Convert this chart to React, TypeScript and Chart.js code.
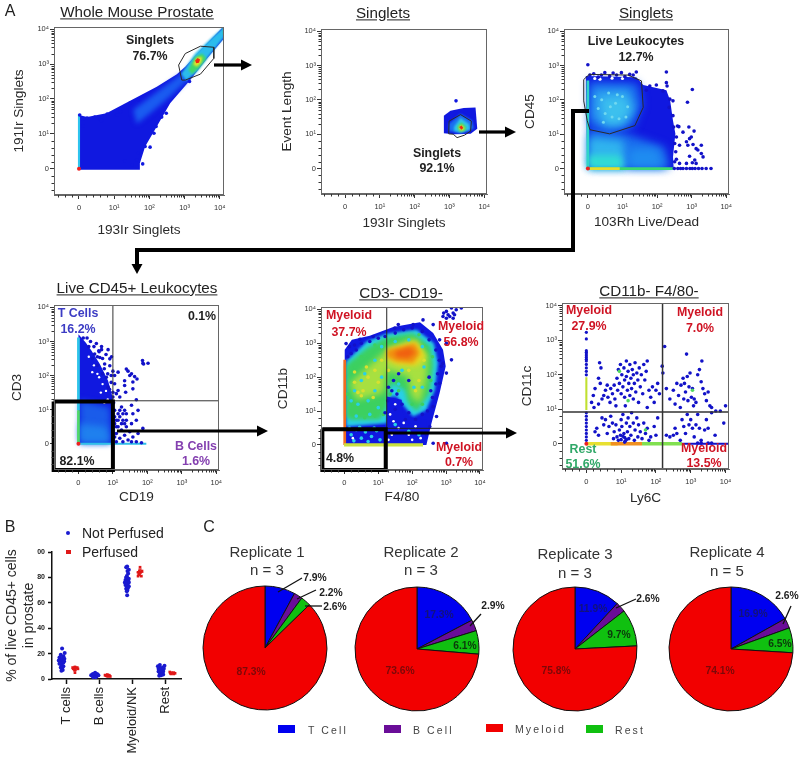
import React, { useEffect, useRef } from "react";
import { Chart, registerables } from "chart.js";

/* softens the density layers: must run before the filler plugin, so it is registered first */
const softDensity = {
  id: "softDensity",
  beforeDatasetDraw(chart: any, args: any) {
    const soft = chart.data.datasets[args.index].soft;
    chart.ctx.filter = soft ? `blur(${soft}px)` : "none";
  },
  afterDatasetDraw(chart: any) {
    chart.ctx.filter = "none";
  },
};
Chart.register(softDensity);
Chart.register(...registerables);

type P = [number, number];

/* ---------- axis tick values (decades on a biexponential axis) ---------- */
const majorTicks = [0, 1, 2, 3, 4];
const majorLabels = ["0", "10¹", "10²", "10³", "10⁴"];
const minorTicks = [-0.6, -0.4, -0.2, 0.2, 0.4, 0.6, 0.8, 1.3, 1.48, 1.6, 1.7, 1.78, 1.85, 1.9, 1.95, 2.3, 2.48, 2.6, 2.7, 2.78, 2.85, 2.9, 2.95, 3.3, 3.48, 3.6, 3.7, 3.78, 3.85, 3.9, 3.95];

/* ---------- panel 1: 193Ir vs 191Ir ---------- */
const p1Blue: P[] = [[0,1.54],[.23,1.48],[.78,1.59],[1.4,1.92],[2.21,2.35],[2.78,2.71],[3.02,2.92],[3.45,3.4],[4.12,4.09],[4.12,3.73],[3.64,3.16],[3.16,2.54],[2.59,1.88],[2.21,1.21],[1.88,.64],[1.73,.16],[1.73,-.03],[0,-.03]];
const p1Mid: P[] = [[1.54,1.69],[2.3,2.26],[2.88,2.69],[3.07,2.78],[3.09,2.54],[2.59,2.07],[2.02,1.59],[1.64,1.29]];
const p1Cyan: P[] = [[2.9,2.72],[3.3,3.3],[3.8,3.78],[4.12,4.07],[4.12,3.76],[3.75,3.3],[3.35,2.78],[3.05,2.52]];
const p1Green: P[] = [[3.11,2.83],[3.28,3.19],[3.5,3.3],[3.62,3.16],[3.4,2.88],[3.21,2.71]];
const p1Yellow: P[] = [[3.24,2.99],[3.35,3.19],[3.5,3.21],[3.48,3.05],[3.35,2.92]];
const p1Red: P[] = [[3.3,3.1],[3.37,3.17],[3.44,3.13],[3.41,3.04],[3.33,3.02]];
const p1Corner: P[] = [[4.08,4.07],[4.13,4.07],[4.13,3.88],[4.08,3.83]];
const p1Strip: P[] = [[-.03,1.56],[.03,1.56],[.03,0],[-.03,0]];
const p1Gate: P[] = [[2.83,2.97],[3.02,3.3],[3.45,3.51],[3.83,3.48],[3.83,3.16],[3.45,2.71],[3.02,2.54],[2.92,2.54]];
const p1Events: P[] = [[.02,1.54],[.11,1.42],[.23,1.45],[.11,1.23],[.45,1.48],[.59,1.42],[.8,1.57],[.64,1.38],[1.07,1.54],[1.18,1.64],[1.45,1.88],[1.69,1.97],[2.48,1.59],[2.35,1.48],[2.19,1.21],[2.13,1.02],[2.02,.62],[1.88,.64],[1.69,.45],[1.81,.14],[1.3,.23],[1.5,.11],[1.64,.26],[3.14,2.5]];
const originEvent: P[] = [[0,0]];

/* ---------- panel 2: 193Ir vs event length ---------- */
const p2Blue: P[] = [[2.84,1.54],[3.03,1.68],[3.41,1.76],[3.75,1.78],[3.8,1.16],[3.61,1.01],[3.13,1.0],[2.84,1.03]];
const p2Mid: P[] = [[2.98,1.3],[3.32,1.59],[3.65,1.4],[3.7,1.16],[3.32,1.03],[2.98,1.09]];
const p2Cyan: P[] = [[3.13,1.21],[3.32,1.47],[3.56,1.3],[3.59,1.13],[3.32,1.05],[3.14,1.09]];
const p2Green: P[] = [[3.22,1.21],[3.34,1.35],[3.48,1.21],[3.46,1.11],[3.3,1.07]];
const p2Yellow: P[] = [[3.27,1.21],[3.34,1.28],[3.44,1.19],[3.4,1.11],[3.3,1.11]];
const p2Red: P[] = [[3.28,1.21],[3.35,1.25],[3.4,1.18],[3.34,1.13]];
const p2Gate: P[] = [[2.99,1.38],[3.32,1.57],[3.63,1.38],[3.61,1.09],[3.43,.97],[3.22,.9],[3.11,1.0],[2.98,1.01]];
const p2Events: P[] = [[3.19,1.97]];

/* ---------- panel 3: Live/Dead vs CD45 ---------- */
const p3Blue: P[] = [[-.06,2.69],[1.4,2.66],[1.6,2.43],[2.27,2.28],[2.38,1.97],[2.46,1.4],[2.53,1.01],[2.46,.34],[2.48,.01],[-.02,-.02]];
const p3Upper1: P[] = [[.02,2.55],[1.45,2.5],[1.58,1.88],[1.33,1.22],[.63,1.03],[.02,1.22]];
const p3Upper2: P[] = [[.15,2.33],[1.21,2.33],[1.38,1.78],[1.07,1.25],[.54,1.16],[.11,1.49]];
const p3Upper3: P[] = [[.35,2.07],[1.07,2.11],[1.26,1.68],[.92,1.28],[.49,1.32]];
const p3Lower1: P[] = [[.02,1.16],[1.12,1.01],[2.22,.63],[2.37,.01],[.02,.01]];
const p3Lower2: P[] = [[.02,.92],[1.02,.82],[1.12,.01],[.02,.01]];
const p3Lower3: P[] = [[.02,.39],[.92,.39],[1.07,.01],[.02,.01]];
const p3Lower4: P[] = [[1.21,.58],[1.98,.58],[2.22,.01],[1.16,.01]];
const p3Strip: P[] = [[-.04,2.56],[.04,2.56],[.04,.01],[-.04,.01]];
const p3Bottom: P[] = [[-.02,.04],[2.46,.04],[2.46,-.04],[-.02,-.04]];
const p3BottomHot: P[] = [[.06,.04],[.92,.04],[.92,-.04],[.06,-.04]];
const p3Gate: P[] = [[-.12,2.59],[.04,2.74],[1.16,2.72],[1.55,2.55],[1.6,1.78],[1.36,1.25],[.63,1.01],[.06,1.13],[-.02,1.4],[-.12,1.97]];
const p3Events: P[] = [[0,3.02],[.06,2.72],[.17,2.76],[.3,2.66],[.49,2.79],[.73,2.78],[.97,2.79],[1.07,2.68],[1.21,2.74],[1.4,2.81],[.63,2.69],[1.31,2.72],[.83,2.72],[.39,2.72],[2.27,2.81],[2.27,2.5],[2.29,2.4],[1.79,2.4],[1.98,2.43],[1.69,2.28],[2.17,2.26],[2.37,2.02],[2.46,1.97],[2.35,1.78],[2.46,1.54],[2.48,1.21],[2.59,1.24],[2.63,1.22],[3.02,2.3],[2.88,1.93],[2.92,1.21],[3.07,1.09],[2.75,1.06],[2.56,.92],[2.99,.92],[2.94,.87],[2.85,.78],[2.65,.68],[2.89,.68],[3.04,.7],[3.28,.68],[3.13,.58],[3.18,.54],[3.28,.44],[3.33,.34],[2.94,.36],[3.09,.25],[2.65,.15],[2.51,.2],[3.13,.15],[2.85,.15],[3.02,.17],[2.56,.27],[2.54,.49],[2.51,.73],[2.5,0],[2.6,0],[2.68,0],[2.75,0],[2.85,0],[2.95,0],[3.02,0],[3.1,0],[3.2,0],[3.3,0],[3.42,0],[3.56,0]];
const p3LightEvents: P[] = [[.4,2],[.6,2.2],[.8,1.9],[1,2.1],[.5,1.6],[.7,1.5],[.9,1.45],[1.15,1.8],[.3,1.75],[.65,1.8],[.85,2.15],[.2,2.1],[1.1,1.5],[.45,1.35]];
const p3Gaps: P[] = [[.2,2.62],[.35,2.6],[.7,2.63],[1,2.62]];

/* ---------- panel 4: CD19 vs CD3 ---------- */
const p4Blue: P[] = [[0,3.21],[.21,2.97],[.38,2.73],[.62,2.34],[.86,1.85],[.99,1.37],[1.05,.79],[1.05,0],[0,0]];
const p4Lower1: P[] = [[.04,1.27],[.91,1.08],[.96,.03],[.04,.03]];
const p4Lower2: P[] = [[.04,.59],[.81,.5],[.91,.03],[.04,.03]];
const p4Bottom: P[] = [[.04,.03],[1.97,.03],[1.97,-.03],[.04,-.03]];
const p4StripTop: P[] = [[-.04,3.12],[.04,3.12],[.04,.98],[-.04,.98]];
const p4StripLow: P[] = [[-.04,.98],[.04,.98],[.04,0],[-.04,0]];
const p4QuadV: P[] = [[1,-.77],[1,4.07]];
const p4QuadH: P[] = [[-.71,1.26],[4.08,1.26]];
const p4Box: P[] = [[-.72,1.24],[1,1.24],[1,-.77],[-.72,-.77]];
const p4Events: P[] = [[.14,3.1],[.25,3.1],[.52,2.94],[.67,2.85],[.67,2.76],[.86,2.76],[.96,2.55],[.59,2.73],[.47,2.63],[.76,2.34],[.91,2.29],[1,2.13],[1.15,2.1],[1.05,2],[1.39,2.19],[1.44,2.13],[1.54,2.05],[1.63,1.97],[1.7,1.9],[1.34,1.85],[1.05,1.76],[1.34,1.71],[1.15,1.56],[1,1.51],[1.58,1.61],[1.37,1.51],[1.68,1.29],[1.2,1.37],[1.87,2.36],[1.86,2.44],[1.89,2.34],[2.02,2.36],[1.49,2],[1.58,1.81],[.86,1.66],[.81,1.95],[.62,2.53],[.91,2.49],[1,1.37],[1.1,1.47],[1.05,.98],[1.15,.88],[1.25,1.08],[1.34,.98],[1.2,.79],[1.1,.69],[1.05,.59],[1.29,.69],[1.39,.88],[1.54,1.13],[1.58,.88],[1.73,.98],[1.68,.69],[1.54,.59],[1.39,.5],[1.25,.4],[1.1,.3],[1.87,.45],[1.73,.3],[1.58,.2],[1.44,.11],[1.2,.16],[1.29,.06],[1.05,.2],[1.15,.5],[1.49,.35],[1.34,.25],[1.68,.06],[1.83,.03],[1.1,.06],[1.54,.06],[1.2,.98],[1.29,.88],[1.15,.69],[1.25,.59],[1.05,.79],[1.1,.5],[1.34,.59],[1.39,.69],[.3,2.85],[.45,2.85],[.4,2.5],[.55,2.55],[.7,2.5],[.75,2.2],[.85,2.05],[.95,2],[.95,1.8],[.7,2.05],[.8,2.62],[.55,2.3],[.6,2.7],[.35,3],[.9,1.6],[1.02,1.2],[.98,1.15]];
const p4Gaps: P[] = [[.55,2.05],[.45,2.3],[.3,2.55],[.7,1.75],[.6,1.95],[.8,1.55],[.65,1.5],[.4,2.1],[.85,1.3],[.75,1.2]];

/* ---------- panel 5: F4/80 vs CD11b ---------- */
const p5Blue: P[] = [[.01,2.81],[.22,3.1],[.75,3.22],[1.44,3.48],[2.23,3.62],[2.62,3.3],[2.91,2.81],[2.99,2.32],[2.81,1.53],[2.57,.64],[2.42,0],[.01,0]];
const p5Cyan: P[] = [[.05,2.46],[.66,3.05],[1.25,3.28],[2.13,3.4],[2.64,3],[2.76,2.41],[2.67,1.63],[2.42,1.03],[2.03,.84],[1.78,1.13],[1.54,1.43],[1.34,1.43],[1.25,.64],[.05,.54]];
const p5Green: P[] = [[.05,2.36],[.66,2.86],[1.25,3.18],[2.03,3.3],[2.54,2.91],[2.62,2.36],[2.52,1.53],[2.13,.99],[1.88,1.23],[1.78,1.63],[1.39,1.82],[1.25,1.13],[1.05,.74],[.17,.74],[.05,.84]];
const p5Lime: P[] = [[.17,1.82],[.75,2.36],[1.25,2.81],[2.03,3.15],[2.47,2.61],[2.42,1.97],[2.23,1.23],[1.98,1.43],[1.88,2.02],[1.25,2.22],[1.15,1.53],[.36,1.33]];
const p5Yellow: P[] = [[1.26,2.85],[1.74,2.96],[2.13,3.08],[2.42,2.61],[2.13,2.32],[1.54,2.36],[1.26,2.51]];
const p5Orange: P[] = [[1.26,2.81],[1.74,2.91],[2.08,3],[2.23,2.71],[2.03,2.41],[1.54,2.46],[1.26,2.59]];
const p5Hot: P[] = [[1.49,2.76],[1.93,2.89],[2.1,2.71],[1.88,2.56],[1.54,2.59]];
const p5LowerLeft: P[] = [[.05,.49],[1.2,.59],[1.25,.03],[.05,.03]];
const p5LowerRight: P[] = [[1.25,1.43],[1.69,1.33],[1.74,.84],[2.42,.74],[2.4,.03],[1.26,.03]];
const p5Strip: P[] = [[-.03,2.51],[.05,2.51],[.05,0],[-.03,0]];
const p5Bottom: P[] = [[-.01,.05],[2.32,.05],[2.32,-.05],[-.01,-.05]];
const p5QuadV: P[] = [[1.25,-.74],[1.25,4.07]];
const p5QuadH: P[] = [[-.69,.49],[4.09,.49]];
const p5Box: P[] = [[-.65,.46],[1.22,.46],[1.22,-.74],[-.65,-.74]];
const p5CyanEvents: P[] = [[.2,.3],[.35,.45],[.5,.2],[.62,.38],[.8,.25],[.95,.42],[1.05,.15],[.28,.12],[.7,.1],[.45,.52],[.88,.5],[.15,.5],[1.5,.6],[1.9,.4],[2.2,.3],[.3,1.6],[.5,1.9],[.7,1.3],[.9,1.6],[1,1.1],[.4,1.2],[.2,1.3],[.6,2.1],[.9,2.5],[1.1,2],[1.6,1.8],[1.7,2.2],[2.05,1.7],[2.3,1.7],[2.35,2.3],[2.3,2.9],[1.9,3.1],[1.5,3.05],[1.1,2.9],[.75,.9],[.35,.85]];
const p5GreenEvents: P[] = [[.3,2.3],[.5,2.6],[.9,2.95],[1.4,3.1],[2.2,3.25],[2.6,2.6],[2.55,1.9],[2.3,1.2],[.2,1],[.6,.8],[.9,.85],[1.15,.9],[.1,1.5],[1.6,1.6],[2,1.2],[1.35,1.5]];
const p5YellowEvents: P[] = [[.3,1.85],[.55,1.6],[.7,2],[.85,1.4],[1,1.85],[.5,1.45],[1.1,2.5],[.9,2.2],[.65,2.3],[.3,2.15],[2.1,1.6],[2.2,1.9],[2.35,2.5],[1.9,2.2],[1.3,2.2],[.4,1.55]];
const p5Gaps: P[] = [[1.5,1.2],[1.35,.9],[1.6,.5],[1.9,.3],[2.1,.55],[1.4,.3],[2.25,.2],[1.75,.65],[1.45,.7],[2,.15],[.25,.2],[1.3,.15]];
const p5BlueEvents: P[] = [[.3,2.95],[.5,3],[.75,3.05],[1,3.15],[1.2,3.2],[1.5,3.3],[1.75,3.4],[2,3.45],[2.3,3.35],[2.5,3.1],[2.7,2.8],[2.8,2.5],[2.75,2.1],[2.7,1.8],[2.6,1.4],[2.45,1],[2.3,.9],[2.1,.75],[1.9,.95],[1.7,1.2],[1.55,1.5],[1.4,1.6],[1.3,1.7],[1.28,1.3],[1.2,.95],[.2,2.7],[.35,2.8],[.15,2.9],[.1,2.6],[1.6,2.1],[1.9,1.9],[1.45,1.9],[2.5,2],[2.55,1.6],[1.5,1.05],[1.8,.75],[2.91,3.79],[3.01,3.94],[3.16,4.04],[3.21,3.89],[3.06,3.84],[3.21,3.74],[3.45,4.04],[3.3,3.99],[2.93,3.89],[3.11,3.79],[3.01,3.74],[3.25,3.84],[3.01,3],[3.16,2.51],[2.91,2.41],[3.01,2.12],[2.81,1.82],[2.62,1.13],[2.72,.84],[2.42,.3],[2.62,.05],[3.01,.05],[2.52,.54],[2.86,2.32],[2.81,3.1],[2.62,3.55],[2.32,3.69],[2.03,3.55],[1.59,3.55],[1.49,3.45],[.85,3.2],[.46,3.12],[.05,2.99]];

/* ---------- panel 6: Ly6C vs CD11c ---------- */
const p6QuadV: P[] = [[2.19,-.73],[2.19,4.08]];
const p6QuadH: P[] = [[-.7,.92],[4.1,.92]];
const p6BottomYellow: P[] = [[0,.05],[.9,.05],[.9,-.05],[0,-.05]];
const p6BottomOrange: P[] = [[.7,.05],[1.6,.05],[1.6,-.05],[.7,-.05]];
const p6BottomGreen: P[] = [[1.6,.05],[2.75,.05],[2.75,-.05],[1.6,-.05]];
const p6BottomTail: P[] = [[2.75,.03],[4.1,.03],[4.1,-.03],[2.75,-.03]];
const p6Strip: P[] = [[-.03,1.93],[.03,1.93],[.03,.98],[-.03,.98]];
const p6Axis0: P[] = [[0,3.23],[0,3.04],[0,2.7],[0,2.65],[0,2.6],[0,2.55],[0,2.5],[0,2.45],[0,2.4],[0,2.3],[0,2.2],[0,2.1],[0,2],[0,.9],[0,.8],[0,.7],[0,.6],[0,.5],[0,.4],[0,.3],[0,.2],[0,.1]];
const p6UpperLeft: P[] = [[.38,2.35],[.42,2.2],[.35,1.9],[.4,1.75],[.5,1.4],[.25,1.6],[.2,1.4],[.15,1.2],[.22,1.05],[.35,1.15],[.45,1.3],[.55,1.55],[.6,1.7],[.62,1.35],[.7,1.6],[.68,1.2],[.75,1.45],[.8,1.7],[.82,1.3],[.85,1.1],[.9,1.55],[.88,1.9],[.92,2.15],[.95,1.75],[.98,2.3],[1,1.45],[1.02,2],[1.05,1.65],[1.08,2.2],[1.1,1.85],[1.1,1.35],[1.12,1.1],[1.15,2.4],[1.15,1.95],[1.18,1.55],[1.2,2.1],[1.22,1.75],[1.25,1.4],[1.25,2.3],[1.28,1.9],[1.3,1.6],[1.32,2.15],[1.35,2],[1.35,1.3],[1.38,1.75],[1.4,2.35],[1.42,1.5],[1.45,2.05],[1.48,1.85],[1.5,1.2],[1.52,2.2],[1.55,1.65],[1.58,2],[1.62,1.45],[1.65,2.3],[1.68,1.85],[1.72,2.1],[1.75,2.4],[1.75,1.05],[1.8,1.55],[1.85,1.35],[1.9,1.65],[1.95,1.2],[2,1.55],[2.05,1.75],[2.1,1.45],[2.18,2.25],[2.2,2.05]];
const p6UpperRight: P[] = [[2.25,2.82],[2.3,1.6],[2.4,1.3],[2.5,1.55],[2.55,1.15],[2.6,1.75],[2.65,1.4],[2.7,1.05],[2.72,1.7],[2.78,1.9],[2.8,1.3],[2.82,1.75],[2.85,1.5],[2.9,1.95],[2.92,1.25],[2.95,1.65],[2.98,2.05],[3.02,1.35],[3.05,1.6],[3.08,1.1],[3.1,1.3],[3.15,1.2],[3.2,2],[3.25,2.15],[3.3,1.8],[3.32,2.4],[3.4,1.45],[3.45,1.25],[3.5,1.5],[3.55,1.1],[3.6,1.05],[2.88,2.6],[3.35,1.6],[3.72,.95],[3.85,.95],[4,1.1]];
const p6LowerLeft: P[] = [[.25,.35],[.3,.45],[.35,.25],[.45,.75],[.5,.55],[.55,.7],[.6,.3],[.65,.5],[.7,.8],[.75,.6],[.78,.15],[.8,.35],[.85,.55],[.88,.2],[.92,.1],[.95,.4],[.98,.25],[1,.7],[1,.12],[1.02,.5],[1.05,.85],[1.08,.3],[1.1,.18],[1.12,.08],[1.15,.6],[1.18,.35],[1.2,.75],[1.22,.15],[1.25,.5],[1.28,.25],[1.3,.9],[1.35,.6],[1.38,.1],[1.4,.4],[1.45,.75],[1.48,.2],[1.5,.55],[1.55,.35],[1.6,.15],[1.65,.6],[1.7,.3],[1.75,.45],[1.8,.1],[1.85,.2],[1.95,.5],[2,.25],[2.05,.75],[1.1,.05],[1.05,.22],[1.15,.12]];
const p6LowerRight: P[] = [[2.3,.25],[2.4,.2],[2.5,.25],[2.55,.45],[2.6,.3],[2.7,.1],[2.75,.7],[2.8,.5],[2.85,.3],[2.9,.85],[2.95,.55],[3,.7],[3.05,.45],[3.1,.2],[3.15,.55],[3.2,.85],[3.25,.45],[3.3,.1],[3.4,.4],[3.45,.7],[3.5,.45],[3.6,.9],[3.7,.25],[3.95,.6],[3.3,.02],[3.5,.02],[3.2,.02],[3.6,.02]];
const p6GreenEvents: P[] = [[.95,2.1],[3.05,1.55],[1.2,1.25],[1.7,.4]];

/* ---------- panel B ---------- */
const bCategories = ["T cells", "B cells", "Myeloid/NK", "Rest"];
const bCategoryTicks = [1, 2, 3, 4];
const bYTicks = [0, 20, 40, 60, 80, 100];
const bYLabels = ["0", "20", "40", "60", "80", "00"];
const notPerfused: P[] = [[.86,24],[.94,20.5],[.82,19],[.9,18],[.78,17],[.87,16],[.93,16],[.8,15],[.88,15],[.76,14.5],[.84,14],[.92,14],[.8,13.5],[.9,13],[.86,12.5],[.78,12],[.84,11],[.9,10],[.82,9],[.86,8],[.88,7],[.84,6.5],
 [1.86,5],[1.8,4],[1.92,4],[1.78,3.5],[1.88,3.5],[1.74,3],[1.82,3],[1.94,3],[1.86,2.5],[1.78,2.5],[1.9,2],[1.84,2],[1.8,1.5],[1.88,1.5],[1.96,3],[1.86,4],
 [2.83,88.5],[2.8,88],[2.88,86],[2.84,85],[2.86,83],[2.82,81],[2.8,80],[2.88,79],[2.78,78],[2.86,78],[2.82,77],[2.76,76],[2.88,76],[2.8,75],[2.84,74],[2.78,74],[2.88,73],[2.82,73],[2.86,72],[2.8,71],[2.84,70],[2.82,69],[2.83,66],
 [3.82,11],[3.96,10.5],[3.76,10],[3.8,9],[3.92,9],[3.86,8.5],[3.78,8],[3.94,8],[3.84,7.5],[3.8,7],[3.9,7],[3.86,6.5],[3.78,6],[3.92,6],[3.84,5.5],[3.88,5],[3.82,4],[3.92,3.5],[3.86,3],[3.8,2.5]];
const perfused: P[] = [[1.25,9.5],[1.18,9],[1.32,9],[1.22,8.5],[1.3,8.5],[1.2,8],[1.26,7.5],[1.24,7],[1.25,5],[1.34,8],
 [2.23,3.5],[2.16,3],[2.28,3],[2.2,2.5],[2.3,2.5],[2.24,2],[2.32,2],[2.18,3],
 [3.22,88],[3.2,85],[3.28,85],[3.16,84],[3.24,84],[3.2,83],[3.18,82],[3.16,81],[3.26,81],
 [4.12,5.5],[4.18,5],[4.24,5],[4.14,4.5],[4.2,4.5],[4.28,4.5],[4.16,4],[4.24,4]];
const bPositionsNot = [.86, 1.86, 2.83, 3.85];
const bMeansNot = [14, 3, 77, 6.9];
const bSdNot = [4, 1, 5, 2.5];
const bPositionsPerf = [1.25, 2.23, 3.22, 4.2];
const bMeansPerf = [8, 2.7, 84, 4.6];
const bSdPerf = [1.5, .5, 2.5, .5];

/* ---------- panel C ---------- */
const pieCategories = ["T Cell", "B Cell", "Rest", "Myeloid"];
const replicate1 = [7.9, 2.2, 2.6, 87.3];
const replicate2 = [17.3, 2.9, 6.1, 73.6];
const replicate3 = [11.9, 2.6, 9.7, 75.8];
const replicate4 = [16.9, 2.6, 6.5, 74.1];

/* ---------- dataset helpers ---------- */
const xy = (pts: P[]) => pts.map(([x, y]) => ({ x, y }));
const poly = (pts: P[], color: string, soft = 0) => ({ type: "line", data: xy(pts), fill: "shape", backgroundColor: color, borderWidth: 0, pointRadius: 0, tension: 0, soft });
const stroke = (pts: P[], color: string, width: number, closed = false, clip: any = undefined) => ({ type: "line", data: xy(closed ? [...pts, pts[0]] : pts), fill: false, borderColor: color, borderWidth: width, pointRadius: 0, tension: 0, clip });
const dots = (pts: P[], color: string, r = 1.8) => ({ type: "scatter", data: xy(pts), backgroundColor: color, borderWidth: 0, pointRadius: r, showLine: false });
const ordered = (list: any[]) => list.map((d, i) => ({ ...d, order: list.length - i }));

const BLUE = "#1018e0";
const DOT = "#1212c8";
const GATE = "#2a2a2a";
const FONT = "'Liberation Sans', Arial, sans-serif";

const frameAndMinorTicks = {
  id: "frameAndMinorTicks",
  afterDraw(chart: any) {
    const { ctx, chartArea: a, scales } = chart;
    ctx.save();
    ctx.strokeStyle = "#666";
    ctx.lineWidth = 1;
    ctx.strokeRect(a.left + .5, a.top + .5, a.right - a.left - 1, a.bottom - a.top - 1);
    ctx.strokeStyle = "#333";
    ctx.beginPath();
    for (const v of minorTicks) {
      const px = Math.round(scales.x.getPixelForValue(v)) + .5;
      if (px > a.left && px < a.right) { ctx.moveTo(px, a.bottom); ctx.lineTo(px, a.bottom + 2.5); }
      const py = Math.round(scales.y.getPixelForValue(v)) + .5;
      if (py > a.top && py < a.bottom) { ctx.moveTo(a.left, py); ctx.lineTo(a.left - 2.5, py); }
    }
    ctx.stroke();
    ctx.restore();
  },
};

const flowAxis = (min: number, max: number, title: string, padding: number, fit: (s: any) => void) => ({
  type: "linear",
  min, max,
  afterBuildTicks: (s: any) => { s.ticks = majorTicks.map((value) => ({ value })); },
  afterFit: fit,
  ticks: {
    autoSkip: false, maxRotation: 0, minRotation: 0, padding,
    color: "#333", font: { size: 7.5, family: FONT },
    callback: (v: number) => majorLabels[majorTicks.indexOf(v)] ?? "",
  },
  grid: { drawOnChartArea: false, tickLength: 4, tickColor: "#333", tickWidth: 1 },
  border: { color: "#666" },
  title: { display: true, text: title, color: "#2a2a2a", padding: 0, font: { size: 13.6, family: FONT } },
});

const flowConfig = (p: any, datasets: any[]) => ({
  type: "scatter",
  data: { datasets: ordered(datasets) },
  options: {
    animation: false, responsive: false, events: [],
    layout: { autoPadding: false, padding: { top: p.t - p.cy, right: p.cr - p.r, left: 0, bottom: 0 } },
    plugins: { legend: { display: false }, tooltip: { enabled: false } },
    scales: {
      x: flowAxis(p.xr[0], p.xr[1], p.xt, 4, (s: any) => { s.height = p.cb - p.b; }),
      y: flowAxis(p.yr[0], p.yr[1], p.yt, 1, (s: any) => { s.width = p.l - p.cx; }),
    },
  },
  plugins: [frameAndMinorTicks],
});

const box = (cx: number, cy: number, cr: number, cb: number, l: number, r: number, t: number, b: number, xr: number[], yr: number[], xt: string, yt: string) => ({ cx, cy, cr, cb, l, r, t, b, xr, yr, xt, yt });

const panels = [
  { p: box(11, 20, 238, 238, 54, 224, 27, 195, [-.71, 4.12], [-.75, 4.06], "193Ir Singlets", "191Ir Singlets"),
    ds: [poly(p1Blue, BLUE), poly(p1Mid, "#1a5cf0", 2.5), poly(p1Cyan, "#2bbcec", 1.2), poly(p1Green, "#3fd868", 1.2), poly(p1Yellow, "#e6e428", 1), poly(p1Red, "#ee2a12", .7), poly(p1Corner, "#3fd0a0"), poly(p1Strip, "#2ec4ee"), dots(p1Events, BLUE), dots(originEvent, "#ee2020", 2), stroke(p1Gate, GATE, 1, true)] },
  { p: box(279, 20, 499, 231, 321, 487, 29, 194, [-.69, 4.08], [-.74, 4.06], "193Ir Singlets", "Event Length"),
    ds: [poly(p2Blue, BLUE), poly(p2Mid, "#1a70f0", 1.2), poly(p2Cyan, "#30c8e8", 1.2), poly(p2Green, "#40d860", 1), poly(p2Yellow, "#e6e428", .8), poly(p2Red, "#ee2a12", .6), dots(p2Events, BLUE), stroke(p2Gate, GATE, 1, true)] },
  { p: box(522, 20, 741, 230, 564, 729, 29, 194, [-.69, 4.08], [-.74, 4.06], "103Rh Live/Dead", "CD45"),
    ds: [poly(p3Blue, BLUE), poly(p3Upper1, "#1864ee", 4), poly(p3Upper2, "#2a9cf0", 4), poly(p3Upper3, "#3cc0ee", 4), poly(p3Lower1, "#1a70ee", 4), poly(p3Lower2, "#30b4ee", 4), poly(p3Lower3, "#30dcd4", 3), poly(p3Lower4, "#1f8cf0", 4), poly(p3Strip, "#30d4c8"), poly(p3Bottom, "#3cd870"), poly(p3BottomHot, "#e4dc30"), dots(p3LightEvents, "#70d8f0", 1.5), dots(p3Gaps, "#ffffff", 1.6), dots(p3Events, DOT), dots(originEvent, "#ee2020", 2), stroke(p3Gate, GATE, 1, true)] },
  { p: box(9, 298, 231, 505, 54, 219, 305, 470, [-.71, 4.08], [-.77, 4.07], "CD19", "CD3"),
    ds: [poly(p4Blue, BLUE), poly(p4Lower1, "#1a5cea", 3), poly(p4Lower2, "#1f80ee", 3), poly(p4Bottom, "#30c0e8"), dots(p4Gaps, "#ffffff", 1.2), poly(p4StripTop, "#2ec4e8"), poly(p4StripLow, "#50d868"), dots(p4Events, DOT), dots(originEvent, "#ee2020", 2), stroke(p4QuadV, "#333", 1), stroke(p4QuadH, "#333", 1), stroke(p4Box, "#000", 4, true, false)] },
  { p: box(275, 298, 495, 505, 321, 483, 307, 470, [-.69, 4.09], [-.74, 4.07], "F4/80", "CD11b"),
    ds: [poly(p5Blue, BLUE), poly(p5Cyan, "#28d0e8", 1.5), poly(p5Green, "#3cd060", 2), poly(p5Lime, "#a8e040", 3), poly(p5Yellow, "#e8d820", 2.5), poly(p5Orange, "#f09010", 2), poly(p5Hot, "#f06010", 2), poly(p5LowerLeft, BLUE), poly(p5LowerRight, BLUE), poly(p5Strip, "#f06a20"), poly(p5Bottom, "#c8e040"), dots(p5CyanEvents, "#28d0e8"), dots(p5GreenEvents, "#3cd060"), dots(p5YellowEvents, "#d8e030"), dots(p5Gaps, "#ffffff", 1.3), dots(p5BlueEvents, DOT), stroke(p5QuadV, "#222", 1), stroke(p5QuadH, "#222", 1), stroke(p5Box, "#000", 4, true, false)] },
  { p: box(519, 296, 741, 506, 562, 729, 303, 469, [-.7, 4.1], [-.73, 4.08], "Ly6C", "CD11c"),
    ds: [poly(p6BottomYellow, "#e8e030"), poly(p6BottomOrange, "#f09020"), poly(p6BottomGreen, "#80e050"), poly(p6BottomTail, "#1212c8"), poly(p6Strip, "#c0e030"), dots(p6Axis0, DOT, 1.6), dots(p6UpperLeft, DOT), dots(p6UpperRight, DOT), dots(p6LowerLeft, DOT), dots(p6LowerRight, DOT), dots(p6GreenEvents, "#50d860"), dots(originEvent, "#ee2020", 2), stroke(p6QuadV, "#333", 1.5), stroke(p6QuadH, "#333", 1.5)] },
];

/* ---------- panel B config ---------- */
const errorBars = (xs: number[], means: number[], sds: number[], color: string) => {
  const pts: any[] = [];
  xs.forEach((x, i) => {
    const m = means[i], s = sds[i];
    pts.push({ x: x - .1, y: m }, { x: x + .1, y: m }, { x, y: null }, { x, y: m - s }, { x, y: m + s }, { x, y: null },
      { x: x - .05, y: m - s }, { x: x + .05, y: m - s }, { x, y: null }, { x: x - .05, y: m + s }, { x: x + .05, y: m + s }, { x, y: null });
  });
  return { type: "line", data: pts, borderColor: color, borderWidth: 1, pointRadius: 0, spanGaps: false, fill: false };
};

const panelBConfig = {
  type: "scatter",
  data: { datasets: ordered([
    dots(notPerfused, "#1a1ad0", 2),
    { ...dots(perfused, "#e01818", 1.9), pointStyle: "rect" },
    errorBars(bPositionsNot, bMeansNot, bSdNot, "#1a1ad0"),
    errorBars(bPositionsPerf, bMeansPerf, bSdPerf, "#e01818"),
  ]) },
  options: {
    animation: false, responsive: false, events: [],
    layout: { autoPadding: false, padding: { top: 12, right: 19, left: 0, bottom: 0 } },
    plugins: { legend: { display: false }, tooltip: { enabled: false } },
    scales: {
      x: {
        type: "linear", min: .555, max: 4.46,
        afterBuildTicks: (s: any) => { s.ticks = bCategoryTicks.map((value) => ({ value })); },
        afterFit: (s: any) => { s.height = 80; },
        ticks: { autoSkip: false, minRotation: 90, maxRotation: 90, padding: 3, color: "#222", font: { size: 13, family: FONT }, callback: (v: number) => bCategories[v - 1] },
        grid: { drawOnChartArea: false, tickLength: 5, tickColor: "#111", tickWidth: 1.5 },
        border: { color: "#111", width: 1.5 },
      },
      y: {
        type: "linear", min: 0, max: 100,
        afterBuildTicks: (s: any) => { s.ticks = bYTicks.map((value) => ({ value })); },
        afterFit: (s: any) => { s.width = 48; },
        ticks: { autoSkip: false, padding: 3, color: "#222", font: { size: 7, weight: "bold", family: FONT }, callback: (v: number) => bYLabels[bYTicks.indexOf(v)] },
        grid: { drawOnChartArea: false, tickLength: 4, tickColor: "#111", tickWidth: 1.5 },
        border: { color: "#111", width: 1.5 },
        title: { display: true, text: ["% of live CD45+ cells", "in prostate"], color: "#2a2a2a", padding: 0, font: { size: 14, family: FONT } },
      },
    },
  },
};

/* ---------- pies ---------- */
const pieConfig = (values: number[]) => ({
  type: "pie",
  data: { labels: pieCategories, datasets: [{ data: values, backgroundColor: ["#0000f0", "#6a0d98", "#10c010", "#f20000"], borderColor: "#111", borderWidth: 1 }] },
  options: {
    animation: false, responsive: false, events: [], radius: 62,
    layout: { padding: 0 },
    plugins: { legend: { display: false }, tooltip: { enabled: false } },
  },
});

/* ---------- text ---------- */
type T = [string, number, number, number, number, string];
const B = 700, N = 400;
const RED = "#cf1424", INK = "#1e1e1e";
const texts: T[] = [
  ["A", 10, 11, 16, N, INK], ["B", 10, 527, 16, N, INK], ["C", 209, 527, 16, N, INK],
  ["Singlets", 150, 40, 12.4, B, INK], ["76.7%", 150, 56, 12.4, B, INK],
  ["Singlets", 437, 153, 12.4, B, INK], ["92.1%", 437, 168, 12.4, B, INK],
  ["Live Leukocytes", 636, 41, 12.4, B, INK], ["12.7%", 636, 57, 12.4, B, INK],
  ["T Cells", 78, 313, 12.4, B, "#3c3cc4"], ["16.2%", 78, 329, 12.4, B, "#3c3cc4"],
  ["0.1%", 202, 316, 12.4, B, INK], ["82.1%", 77, 461, 12.4, B, INK],
  ["B Cells", 196, 446, 12.4, B, "#8440b0"], ["1.6%", 196, 461, 12.4, B, "#8440b0"],
  ["Myeloid", 349, 315, 12.4, B, RED], ["37.7%", 349, 332, 12.4, B, RED],
  ["Myeloid", 461, 326, 12.4, B, RED], ["56.8%", 461, 342, 12.4, B, RED],
  ["Myeloid", 459, 447, 12.4, B, RED], ["0.7%", 459, 462, 12.4, B, RED],
  ["4.8%", 340, 458, 12.4, B, INK],
  ["Myeloid", 589, 310, 12.4, B, RED], ["27.9%", 589, 326, 12.4, B, RED],
  ["Myeloid", 700, 312, 12.4, B, RED], ["7.0%", 700, 328, 12.4, B, RED],
  ["Rest", 583, 449, 12.4, B, "#30a868"], ["51.6%", 583, 464, 12.4, B, "#30a868"],
  ["Myeloid", 704, 448, 12.4, B, RED], ["13.5%", 704, 463, 12.4, B, RED],
  ["Replicate 1", 267, 551, 15, N, "#333"], ["n = 3", 267, 569, 15, N, "#333"],
  ["Replicate 2", 421, 551, 15, N, "#333"], ["n = 3", 421, 569, 15, N, "#333"],
  ["Replicate 3", 575, 553, 15, N, "#333"], ["n = 3", 575, 572, 15, N, "#333"],
  ["Replicate 4", 727, 551, 15, N, "#333"], ["n = 5", 727, 570, 15, N, "#333"],
  ["7.9%", 315, 578, 10.3, B, INK], ["2.2%", 331, 593, 10.3, B, INK], ["2.6%", 335, 607, 10.3, B, INK], ["87.3%", 251, 672, 10.3, B, "#7c0808"],
  ["17.3%", 439, 615, 10.3, B, "#12127c"], ["2.9%", 493, 606, 10.3, B, INK], ["6.1%", 465, 646, 10.3, B, "#0c380c"], ["73.6%", 400, 671, 10.3, B, "#7c0808"],
  ["11.9%", 593, 609, 10.3, B, "#12127c"], ["2.6%", 648, 599, 10.3, B, INK], ["9.7%", 619, 635, 10.3, B, "#0c380c"], ["75.8%", 556, 671, 10.3, B, "#7c0808"],
  ["16.9%", 753, 614, 10.3, B, "#12127c"], ["2.6%", 787, 596, 10.3, B, INK], ["6.5%", 780, 644, 10.3, B, "#0c380c"], ["74.1%", 720, 671, 10.3, B, "#7c0808"],
];
const headings: [string, number, number][] = [
  ["Whole Mouse Prostate", 137, 12], ["Singlets", 383, 13], ["Singlets", 646, 13],
  ["Live CD45+ Leukocytes", 137, 288], ["CD3- CD19-", 401, 293], ["CD11b- F4/80-", 649, 291],
];
const pieLegend: [string, number, number, string][] = [
  ["T Cell", 308, 730, "#0000f0"], ["B Cell", 413, 730, "#6a0d98"], ["Myeloid", 515, 729, "#f20000"], ["Rest", 615, 730, "#10c010"],
];
const swatchX = [278, 384, 486, 586];
const swatchY = [725, 725, 724, 725];

const leaders: number[][] = [
  [278, 592, 302, 578], [297, 599, 316, 590], [305, 606, 322, 606],
  [470, 626, 481, 614], [616, 608, 636, 599], [783, 624, 791, 606],
];

/* ---------- canvas wrapper ---------- */
function ChartCanvas({ x, y, w, h, config }: { x: number; y: number; w: number; h: number; config: any }) {
  const ref = useRef<HTMLCanvasElement>(null);
  useEffect(() => {
    const chart = new Chart(ref.current as HTMLCanvasElement, config);
    return () => chart.destroy();
  }, [config]);
  return (
    <div style={{ position: "absolute", left: x, top: y, width: w, height: h }}>
      <canvas ref={ref} width={w} height={h} />
    </div>
  );
}

const arrow = (x1: number, y: number, headStart: number, tip: number) =>
  <g key={`${x1}-${y}`}>
    <line x1={x1} y1={y} x2={headStart} y2={y} stroke="#000" strokeWidth={3.2} />
    <polygon points={`${headStart},${y - 5.5} ${tip},${y} ${headStart},${y + 5.5}`} fill="#000" />
  </g>;

const pies = [
  { cx: 265, cy: 648, v: replicate1 }, { cx: 417, cy: 649, v: replicate2 },
  { cx: 575, cy: 649, v: replicate3 }, { cx: 731, cy: 649, v: replicate4 },
];

const flowConfigs = panels.map(({ p, ds }) => flowConfig(p, ds));
const pieConfigs = pies.map((q) => pieConfig(q.v));

export default function App() {
  return (
    <div style={{ position: "absolute", left: 0, top: 0, width: 800, height: 759, overflow: "hidden", background: "#fff", fontFamily: FONT, filter: "blur(0.45px)" }}>
      {panels.map(({ p }, i) => (
        <ChartCanvas key={i} x={p.cx} y={p.cy} w={p.cr - p.cx} h={p.cb - p.cy} config={flowConfigs[i]} />
      ))}
      <ChartCanvas x={4} y={540} w={196} h={219} config={panelBConfig} />
      {pies.map((q, i) => (
        <ChartCanvas key={i} x={q.cx - 66} y={q.cy - 66} w={132} h={132} config={pieConfigs[i]} />
      ))}
      <svg width={800} height={759} style={{ position: "absolute", left: 0, top: 0 }}>
        {arrow(214, 65, 241, 252)}
        {arrow(479, 132, 505, 516)}
        {arrow(117, 431, 257, 268)}
        {arrow(387, 433, 506, 517)}
        <polyline points="589,111 573,111 573,250 137,250 137,265" fill="none" stroke="#000" strokeWidth={4} />
        <polygon points="131.5,264 142.5,264 137,274" fill="#000" />
        {leaders.map((l, i) => <line key={i} x1={l[0]} y1={l[1]} x2={l[2]} y2={l[3]} stroke="#111" strokeWidth={1.3} />)}
      </svg>
      {texts.map(([t, x, y, size, weight, color], i) => (
        <div key={i} style={{ position: "absolute", left: x, top: y, transform: "translate(-50%,-50%)", fontSize: size, fontWeight: weight, color, whiteSpace: "nowrap", lineHeight: 1 }}>{t}</div>
      ))}
      {headings.map(([t, x, y], i) => (
        <div key={i} style={{ position: "absolute", left: x, top: y, transform: "translate(-50%,-50%)", fontSize: 15.2, color: "#222", whiteSpace: "nowrap", lineHeight: 1, textDecoration: "underline" }}>{t}</div>
      ))}
      <div style={{ position: "absolute", left: 65.5, top: 530.5, width: 4.5, height: 4.5, borderRadius: "50%", background: "#1a1ad0" }} />
      <div style={{ position: "absolute", left: 65.5, top: 549.5, width: 5, height: 4, background: "#e01818" }} />
      <div style={{ position: "absolute", left: 82, top: 532.5, transform: "translateY(-50%)", fontSize: 14, lineHeight: 1, color: "#222", whiteSpace: "nowrap" }}>Not Perfused</div>
      <div style={{ position: "absolute", left: 82, top: 552, transform: "translateY(-50%)", fontSize: 14, lineHeight: 1, color: "#222", whiteSpace: "nowrap" }}>Perfused</div>
      {pieLegend.map(([t, x, y, c], i) => (
        <React.Fragment key={i}>
          <div style={{ position: "absolute", left: swatchX[i], top: swatchY[i], width: 17, height: 8, background: c }} />
          <div style={{ position: "absolute", left: x, top: y, transform: "translateY(-50%)", fontSize: 10.5, letterSpacing: 2.1, lineHeight: 1, color: "#444", whiteSpace: "nowrap" }}>{t}</div>
        </React.Fragment>
      ))}
    </div>
  );
}
